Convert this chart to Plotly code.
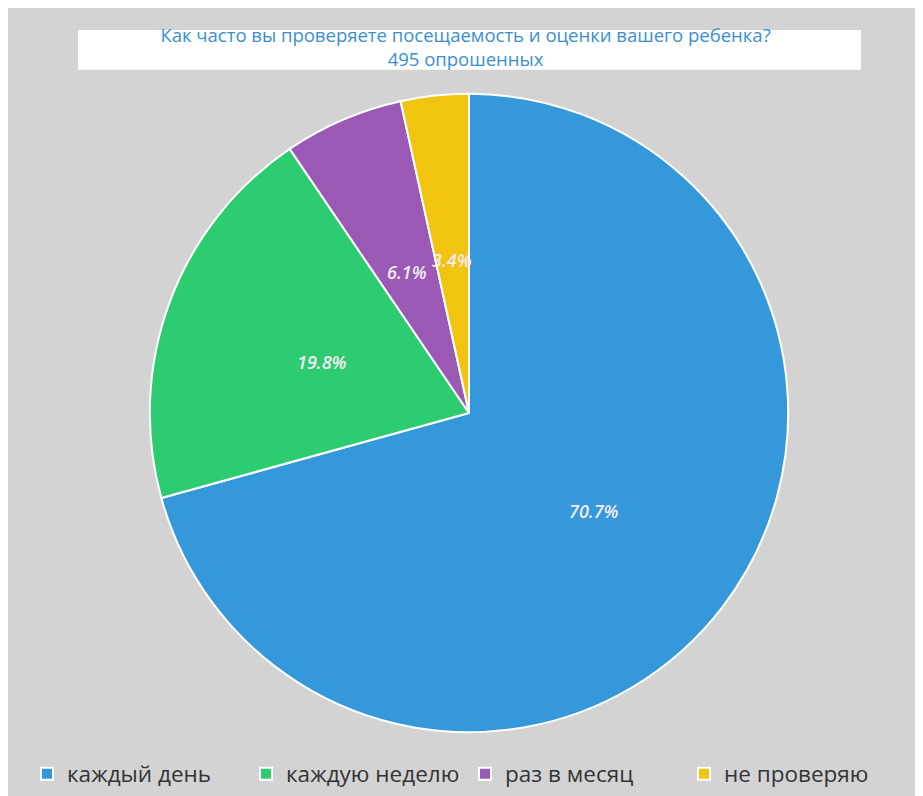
import math
import plotly.graph_objects as go

# ---- data ----
categories = ["каждый день", "каждую неделю", "раз в месяц", "не проверяю"]
counts = [350, 98, 30, 17]
colors = ["#3498db", "#2ecc71", "#9b59b6", "#f1c40f"]
title_lines = ["Как часто вы проверяете посещаемость и оценки вашего ребенка?", "495 опрошенных"]

W, H = 915, 788
total = sum(counts)

# pie geometry (pixels, figure coordinates)
cx, cy, R = 461, 406, 320
dom_x = [(cx - R) / W, (cx + R) / W]
dom_y = [1 - (cy + R) / H, 1 - (cy - R) / H]

fig = go.Figure()
fig.add_trace(go.Pie(
    labels=categories,
    values=counts,
    sort=False,
    direction="clockwise",
    rotation=0,
    marker=dict(colors=colors, line=dict(color="white", width=2)),
    textinfo="none",
    hoverinfo="label+percent",
    domain=dict(x=dom_x, y=dom_y),
))

# percentage labels placed at mid-angle of each slice
annotations = []
cum = 0
for v in counts:
    frac = v / total
    mid = (cum + frac / 2) * 2 * math.pi
    cum += frac
    rl = 0.49 * R
    px = cx + rl * math.sin(mid)
    py = cy - rl * math.cos(mid) + 3
    annotations.append(dict(
        x=px / W, y=1 - py / H, xref="paper", yref="paper",
        text=f"{frac * 100:.1f}%", showarrow=False,
        xanchor="center", yanchor="middle",
        font=dict(family="Open Sans", size=18, color="#f6eaf4", style="italic", weight=600),
    ))

shapes = [
    # title box
    dict(type="rect", xref="paper", yref="paper", x0=70 / W, x1=853 / W,
         y0=1 - 62 / H, y1=1 - 22 / H,
         fillcolor="white", line=dict(width=0), layer="below"),
]

fig.update_layout(
    width=W, height=H,
    margin=dict(l=0, r=0, t=0, b=0),
    paper_bgcolor="#d3d3d3",
    title=dict(
        text="<br>".join(title_lines),
        x=0.5, xanchor="center", xref="paper",
        y=1 - 34 / H, yanchor="middle", yref="paper",
        font=dict(family="Open Sans", size=18.5, color="#3a8fd0"),
    ),
    showlegend=True,
    legend=dict(
        orientation="h",
        x=19 / W, xanchor="left",
        y=1 - 768 / H, yanchor="middle",
        font=dict(family="Open Sans", size=22.5, color="#333333"),
        entrywidth=174, entrywidthmode="pixels",
        bgcolor="rgba(0,0,0,0)",
    ),
    annotations=annotations,
    shapes=shapes,
)

fig.write_html("out.html")
